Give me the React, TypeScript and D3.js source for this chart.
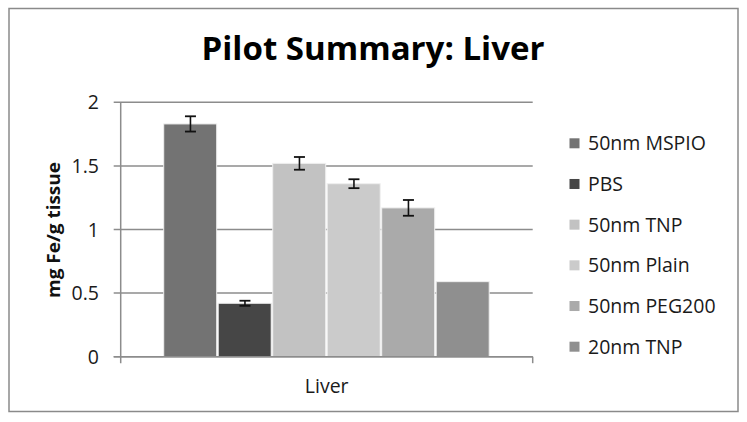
import React, { useRef, useEffect } from 'react'
import * as d3 from 'd3'

const categories = ['Liver']
const series = ['50nm MSPIO', 'PBS', '50nm TNP', '50nm Plain', '50nm PEG200', '20nm TNP']
const values = [1.83, 0.42, 1.52, 1.36, 1.17, 0.59]
const errors = [0.06, 0.02, 0.05, 0.035, 0.062, 0]
const colors = ['#737373', '#464646', '#c2c2c2', '#cbcbcb', '#aaaaaa', '#8f8f8f']
const yTicks = [0, 0.5, 1, 1.5, 2]

export default function App() {
  const svgRef = useRef<SVGSVGElement>(null)

  useEffect(() => {
    if (!svgRef.current) return
    const svg = d3.select(svgRef.current)
    svg.selectAll('*').remove()

    const width = 747
    const height = 422
    const left = 120.7
    const right = 532.7
    const top = 102.3
    const bottom = 356.7
    const font = "'Open Sans', sans-serif"
    const grid = '#8c8c8c'

    svg.append('rect').attr('width', width).attr('height', height).attr('fill', '#fff')
    svg.append('rect')
      .attr('x', 9).attr('y', 8.5).attr('width', 729).attr('height', 403)
      .attr('fill', 'none').attr('stroke', '#8a8a8a').attr('stroke-width', 1.5)

    svg.append('text')
      .attr('x', 373).attr('y', 59.5)
      .attr('text-anchor', 'middle')
      .attr('font-family', font).attr('font-weight', 'bold').attr('font-size', 32)
      .attr('textLength', 343).attr('lengthAdjust', 'spacingAndGlyphs')
      .attr('fill', '#000')
      .text('Pilot Summary: Liver')

    const y = d3.scaleLinear().domain([0, 2]).range([bottom, top])
    const x0 = d3.scaleBand().domain(categories).range([left, right]).paddingOuter(0.13).paddingInner(0)
    const x1 = d3.scaleBand().domain(series).range([0, x0.bandwidth()])

    // gridlines
    yTicks.forEach(t => {
      svg.append('line')
        .attr('x1', left - 7).attr('x2', right)
        .attr('y1', y(t)).attr('y2', y(t))
        .attr('stroke', grid).attr('stroke-width', 1.5)
      svg.append('text')
        .attr('x', 99).attr('y', y(t)).attr('dy', '0.36em')
        .attr('text-anchor', 'end')
        .attr('font-family', font).attr('font-size', 19.5).attr('fill', '#1a1a1a')
        .text(d3.format('~g')(t))
    })

    // axes
    svg.append('line').attr('x1', left).attr('x2', left).attr('y1', top).attr('y2', bottom + 6.5)
      .attr('stroke', grid).attr('stroke-width', 1.5)
    svg.append('line').attr('x1', right).attr('x2', right).attr('y1', bottom).attr('y2', bottom + 6.5)
      .attr('stroke', grid).attr('stroke-width', 1.5)

    const g = svg.append('g')
    categories.forEach(cat => {
      series.forEach((s, i) => {
        const bx = (x0(cat) ?? 0) + (x1(s) ?? 0)
        g.append('rect')
          .attr('x', bx + 0.5).attr('y', y(values[i]))
          .attr('width', x1.bandwidth() - 1.5).attr('height', bottom - y(values[i]))
          .attr('fill', colors[i])
          .attr('stroke', '#efefef').attr('stroke-width', 1)
        if (errors[i] > 0) {
          const cx = bx + x1.bandwidth() / 2
          const y1 = y(values[i] + errors[i])
          const y2 = y(values[i] - errors[i])
          g.append('line').attr('x1', cx).attr('x2', cx).attr('y1', y1).attr('y2', y2)
            .attr('stroke', '#111').attr('stroke-width', 1.6)
          ;[y1, y2].forEach(yy => {
            g.append('line').attr('x1', cx - 5.5).attr('x2', cx + 5.5).attr('y1', yy).attr('y2', yy)
              .attr('stroke', '#111').attr('stroke-width', 1.8)
          })
        }
      })
      svg.append('text')
        .attr('x', (x0(cat) ?? 0) + x0.bandwidth() / 2).attr('y', 393)
        .attr('text-anchor', 'middle')
        .attr('font-family', font).attr('font-size', 19.5).attr('fill', '#1a1a1a')
        .text(cat)
    })

    // x axis line on top of bars
    svg.append('line').attr('x1', left - 7).attr('x2', right).attr('y1', bottom).attr('y2', bottom)
      .attr('stroke', grid).attr('stroke-width', 1.5)

    // y axis title
    svg.append('text')
      .attr('transform', 'translate(60,230) rotate(-90)')
      .attr('text-anchor', 'middle')
      .attr('font-family', font).attr('font-weight', 'bold').attr('font-size', 17)
      .attr('textLength', 136).attr('lengthAdjust', 'spacingAndGlyphs')
      .attr('fill', '#111')
      .text('mg Fe/g tissue')

    // legend
    const legY = d3.scalePoint().domain(series).range([143.3, 346.7])
    series.forEach((s, i) => {
      const ly = legY(s) ?? 0
      svg.append('rect').attr('x', 569.5).attr('y', ly - 5).attr('width', 10).attr('height', 10)
        .attr('fill', colors[i])
      svg.append('text')
        .attr('x', 588).attr('y', ly).attr('dy', '0.36em')
        .attr('font-family', font).attr('font-size', 19.5).attr('fill', '#1a1a1a')
        .text(s)
    })
  }, [])

  return (
    <svg ref={svgRef} width={747} height={422}
      style={{ position: 'absolute', left: 0, top: 0, display: 'block' }} />
  )
}
